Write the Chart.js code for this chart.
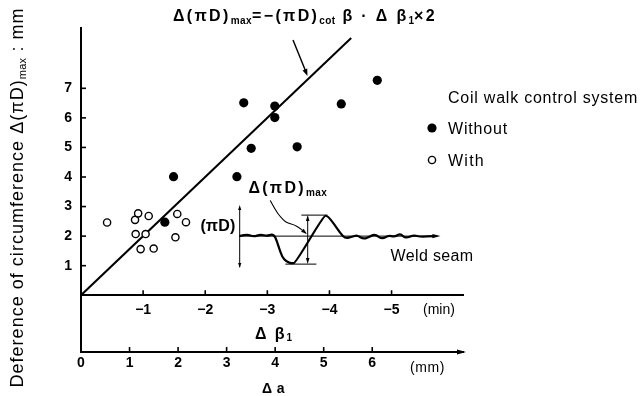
<!DOCTYPE html>
<html>
<head>
<meta charset="utf-8">
<script src="https://cdn.jsdelivr.net/npm/chart.js@4.4.1/dist/chart.umd.min.js"></script>
<style>
html, body { margin: 0; padding: 0; background: #fff; }
canvas { display: block; }
</style>
</head>
<body>
<canvas id="c" width="642" height="396"></canvas>
<script>
// Δβ1 (min) against Δ(πD)max (mm), coils run without coil walk control
const withoutBeta = [-1.49, -1.35, -2.51, -2.62, -2.74, -3.12, -3.12, -3.48, -4.19, -4.77];
const withoutDiff = [4.01, 2.47, 4.01, 6.51, 4.97, 6.40, 6.01, 5.02, 6.47, 7.27];
// coils run with coil walk control
const withBeta = [-0.42, -0.87, -0.92, -1.09, -0.88, -1.04, -0.96, -1.17, -1.55, -1.69, -1.52];
const withDiff = [2.46, 2.55, 2.77, 2.68, 2.07, 2.07, 1.56, 1.58, 2.75, 2.47, 1.96];
// Δ(πD)max = −(πD)cot β · Δβ1 × 2
const lineBeta = [0, -4.35];
const lineDiff = [0, 8.70];
// axis ticks
const yTicks = [1, 2, 3, 4, 5, 6, 7];
const betaTicks = [-1, -2, -3, -4, -5];
const betaTickLabels = ['−1', '−2', '−3', '−4', '−5'];
const aTicks = [0, 1, 2, 3, 4, 5, 6];
const aTickLabels = ['0', '1', '2', '3', '4', '5', '6'];

const FAMILY = '"Liberation Sans", Arial, Helvetica, sans-serif';
const font = (size, bold) => (bold ? 'bold ' : '') + size + 'px ' + FAMILY;
const pairs = (xs, ys) => xs.map((v, i) => ({ x: v, y: ys[i] }));

// text run made of pieces (subscripts lowered); extra width is shared out as
// letter spacing, weighted per piece
function runMetrics(ctx, parts) {
  let w = 0, n = 0;
  for (const p of parts) {
    ctx.font = font(p.size, p.bold);
    const k = p.k === undefined ? 1 : p.k;
    for (const ch of p.t) { w += ctx.measureText(ch).width; n += k; }
  }
  return { w, n };
}
function drawRun(ctx, parts, x, y, width) {
  const m = runMetrics(ctx, parts);
  const sp = width ? (width - m.w) / Math.max(m.n, 1) : 0;
  let cx = x;
  ctx.textAlign = 'left';
  ctx.textBaseline = 'alphabetic';
  for (const p of parts) {
    ctx.font = font(p.size, p.bold);
    const k = p.k === undefined ? 1 : p.k;
    for (const ch of p.t) {
      ctx.fillText(ch, cx, y + (p.dy || 0));
      cx += ctx.measureText(ch).width + sp * k;
    }
  }
}
function line(ctx, x1, y1, x2, y2) {
  ctx.beginPath(); ctx.moveTo(x1, y1); ctx.lineTo(x2, y2); ctx.stroke();
}
function head(ctx, x1, y1, x2, y2, len, half) {
  const a = Math.atan2(y2 - y1, x2 - x1);
  ctx.beginPath();
  ctx.moveTo(x2, y2);
  ctx.lineTo(x2 - len * Math.cos(a) + half * Math.sin(a), y2 - len * Math.sin(a) - half * Math.cos(a));
  ctx.lineTo(x2 - len * Math.cos(a) - half * Math.sin(a), y2 - len * Math.sin(a) + half * Math.cos(a));
  ctx.closePath(); ctx.fill();
}
function smoothPath(ctx, pts) {
  ctx.beginPath();
  ctx.moveTo(pts[0][0], pts[0][1]);
  for (let i = 1; i < pts.length - 1; i++) {
    const mx = (pts[i][0] + pts[i + 1][0]) / 2, my = (pts[i][1] + pts[i + 1][1]) / 2;
    ctx.quadraticCurveTo(pts[i][0], pts[i][1], mx, my);
  }
  const last = pts[pts.length - 1];
  ctx.lineTo(last[0], last[1]);
  ctx.stroke();
}

// weld-seam profile sketch, offsets from its origin
const seamWave = [[1,-0.3],[7.7,-2],[14.3,0.7],[21,-1.7],[27.7,0],[32.7,-2],[36,0.7],[39.3,10.7],[42.7,20.7],[47,25.7],[52.7,27.3],[56,26.7],[84.3,-20],[87.7,-20.7],[94.3,-12.7],[101,-2.7],[106,2.3],[112.7,0.7],[117.7,-1],[124.3,3.3],[131,0],[136,-2],[142.7,3.3],[149.3,-1],[155,1],[161,-2.7],[166,2.3],[174.3,-1],[181,0.7],[194,0]];
const seamLeader = [[31,-35.3],[36,-26],[41,-19.3],[46,-14.3],[49.3,-12.7],[54.3,-11.7],[61,-7.7],[66,-3.3]];

const decor = {
  id: 'decor',
  afterDraw(chart) {
    const ctx = chart.ctx;
    const { x, x2, y } = chart.scales;
    const area = chart.chartArea;
    const x0 = area.left, y0 = y.getPixelForValue(0), yb = area.bottom;
    ctx.save();
    ctx.fillStyle = '#000';
    ctx.strokeStyle = '#000';

    // inward tick marks
    ctx.lineWidth = 1.6;
    yTicks.forEach(v => { const py = y.getPixelForValue(v); line(ctx, x0, py, x0 + 5, py); });
    betaTicks.forEach(v => { const px = x.getPixelForValue(v); line(ctx, px, y0, px, y0 - 5); });
    aTicks.filter(v => v > 0).forEach(v => { const px = x2.getPixelForValue(v); line(ctx, px, yb, px, yb - 5); });
    head(ctx, area.right - 8, yb, area.right + 3, yb, 9, 2.6);

    // axis titles and units
    drawRun(ctx, [{ t: 'Δ', size: 16, bold: true }, { t: ' β', size: 16, bold: true }, { t: '1', size: 10, bold: true, dy: 2, k: 0 }], 255, 339, 37);
    drawRun(ctx, [{ t: 'Δ a', size: 14, bold: true }], 262, 393, 23);
    drawRun(ctx, [{ t: '(min)', size: 14, bold: false }], 423, 314, 32);
    drawRun(ctx, [{ t: '(mm)', size: 14, bold: false }], 410, 372, 35);

    ctx.save();
    ctx.translate(23, 197.5);
    ctx.rotate(-Math.PI / 2);
    const yTitle = [
      { t: 'Deference of circumference Δ(πD)', size: 18 },
      { t: 'max', size: 11, dy: 3, k: 0.3 },
      { t: ' : mm', size: 18 }
    ];
    drawRun(ctx, yTitle, -190, 0, 380);
    ctx.restore();

    // relation drawn as the straight line, with its call-out
    drawRun(ctx, [
      { t: 'Δ(πD)', size: 16, bold: true },
      { t: 'max', size: 10, bold: true, dy: 3, k: 0.2 },
      { t: '=−(πD)', size: 16, bold: true },
      { t: 'cot', size: 10, bold: true, dy: 3, k: 0.2 },
      { t: ' β · Δ β', size: 16, bold: true },
      { t: '1', size: 10, bold: true, dy: 3, k: 0 },
      { t: '×2', size: 16, bold: true }
    ], 173, 21, 264);
    ctx.lineWidth = 1.4;
    line(ctx, 293, 40, 306, 72);
    head(ctx, 293, 40, 307.5, 76, 7, 2.5);

    // legend
    drawRun(ctx, [{ t: 'Coil walk control system', size: 16 }], 448, 102.5, 190);
    const items = [chart.data.datasets[0], chart.data.datasets[1]];
    const rows = [128, 160];
    items.forEach((ds, i) => {
      ctx.beginPath();
      ctx.arc(432, rows[i], ds.pointRadius, 0, Math.PI * 2);
      ctx.fillStyle = ds.backgroundColor; ctx.fill();
      if (ds.borderWidth) { ctx.lineWidth = ds.borderWidth; ctx.strokeStyle = ds.borderColor; ctx.stroke(); }
      ctx.fillStyle = '#000';
      drawRun(ctx, [{ t: ds.label, size: 16 }], 448, rows[i] + 6, ds.label === 'Without' ? 60 : 37);
    });

    // weld-seam profile sketch
    const ox = x.getPixelForValue(-2.55), oy = y.getPixelForValue(2.0);
    ctx.strokeStyle = '#000'; ctx.fillStyle = '#000';
    ctx.lineWidth = 1;
    line(ctx, ox, oy, ox + 198, oy);
    head(ctx, ox + 190, oy, ox + 201, oy, 8, 2.2);
    line(ctx, ox + 0.3, oy - 28, ox + 0.3, oy + 31);
    head(ctx, ox + 0.3, oy - 20, ox + 0.3, oy - 31, 5, 1.6);
    head(ctx, ox + 0.3, oy + 24, ox + 0.3, oy + 32, 5, 1.6);
    line(ctx, ox + 62, oy - 21, ox + 88, oy - 21);
    line(ctx, ox + 46, oy + 28, ox + 77, oy + 28);
    line(ctx, ox + 68.3, oy - 17, ox + 68.3, oy + 24);
    head(ctx, ox + 68.3, oy - 10, ox + 68.3, oy - 21, 6, 1.8);
    head(ctx, ox + 68.3, oy + 18, ox + 68.3, oy + 28, 6, 1.8);
    ctx.lineWidth = 2.2; ctx.lineJoin = 'round'; ctx.lineCap = 'round';
    smoothPath(ctx, seamWave.map(p => [ox + p[0], oy + p[1]]));
    ctx.lineWidth = 1.1;
    smoothPath(ctx, seamLeader.map(p => [ox + p[0], oy + p[1]]));
    head(ctx, ox + 61, oy - 7.7, ox + 67.5, oy - 2, 6, 2);
    drawRun(ctx, [{ t: 'Δ(πD)', size: 16, bold: true }, { t: 'max', size: 10, bold: true, dy: 3, k: 0.2 }], ox + 9, oy - 43.5, 79);
    drawRun(ctx, [{ t: '(πD)', size: 16, bold: true }], ox - 39, oy - 5, 35);
    drawRun(ctx, [{ t: 'Weld seam', size: 16 }], ox + 151, oy + 25, 83);
    ctx.restore();
  }
};

const tickFont = { family: FAMILY, size: 14, weight: 'bold' };

new Chart(document.getElementById('c'), {
  type: 'scatter',
  data: {
    datasets: [
      {
        label: 'Without',
        data: pairs(withoutBeta, withoutDiff),
        pointStyle: 'circle', pointRadius: 4.6, borderWidth: 0,
        backgroundColor: '#000', borderColor: '#000',
        xAxisID: 'x', yAxisID: 'y'
      },
      {
        label: 'With',
        data: pairs(withBeta, withDiff),
        pointStyle: 'circle', pointRadius: 3.6, borderWidth: 1.4,
        backgroundColor: '#fff', borderColor: '#000',
        xAxisID: 'x', yAxisID: 'y'
      },
      {
        type: 'line',
        label: 'Δ(πD)max',
        data: pairs(lineBeta, lineDiff),
        borderColor: '#000', borderWidth: 2, pointRadius: 0, fill: false,
        order: 2, xAxisID: 'x', yAxisID: 'y'
      }
    ]
  },
  options: {
    responsive: false,
    animation: false,
    devicePixelRatio: 1,
    layout: { padding: { left: 0, right: 179, top: 28, bottom: 0 } },
    plugins: { legend: { display: false }, tooltip: { enabled: false } },
    scales: {
      x: {
        axis: 'x', type: 'linear', position: { y: 0 }, reverse: true, min: -6.15, max: 0,
        afterFit: s => { s.height = 0; },
        afterBuildTicks: s => { s.ticks = betaTicks.map(v => ({ value: v })); },
        grid: { drawOnChartArea: false, drawTicks: false, tickLength: 0 },
        border: { display: true, color: '#000', width: 2 },
        ticks: { autoSkip: false, maxRotation: 0, padding: 6, color: '#000', font: tickFont,
                 callback: (v, i) => betaTickLabels[i] }
      },
      x2: {
        axis: 'x', type: 'linear', position: 'bottom', min: 0, max: 7.87,
        afterFit: s => { s.height = 44; },
        afterBuildTicks: s => { s.ticks = aTicks.map(v => ({ value: v })); },
        grid: { drawOnChartArea: false, drawTicks: false, tickLength: 0 },
        border: { display: true, color: '#000', width: 2 },
        ticks: { autoSkip: false, maxRotation: 0, padding: 3, color: '#000', font: tickFont,
                 callback: (v, i) => aTickLabels[i] }
      },
      y: {
        type: 'linear', position: 'left', min: -1.92, max: 9.04,
        afterFit: s => { s.width = 81; },
        afterBuildTicks: s => { s.ticks = yTicks.map(v => ({ value: v })); },
        grid: { drawOnChartArea: false, drawTicks: false, tickLength: 0 },
        border: { display: true, color: '#000', width: 2 },
        ticks: { autoSkip: false, padding: 9, color: '#000', font: tickFont }
      }
    }
  },
  plugins: [decor]
});
</script>
</body>
</html>
